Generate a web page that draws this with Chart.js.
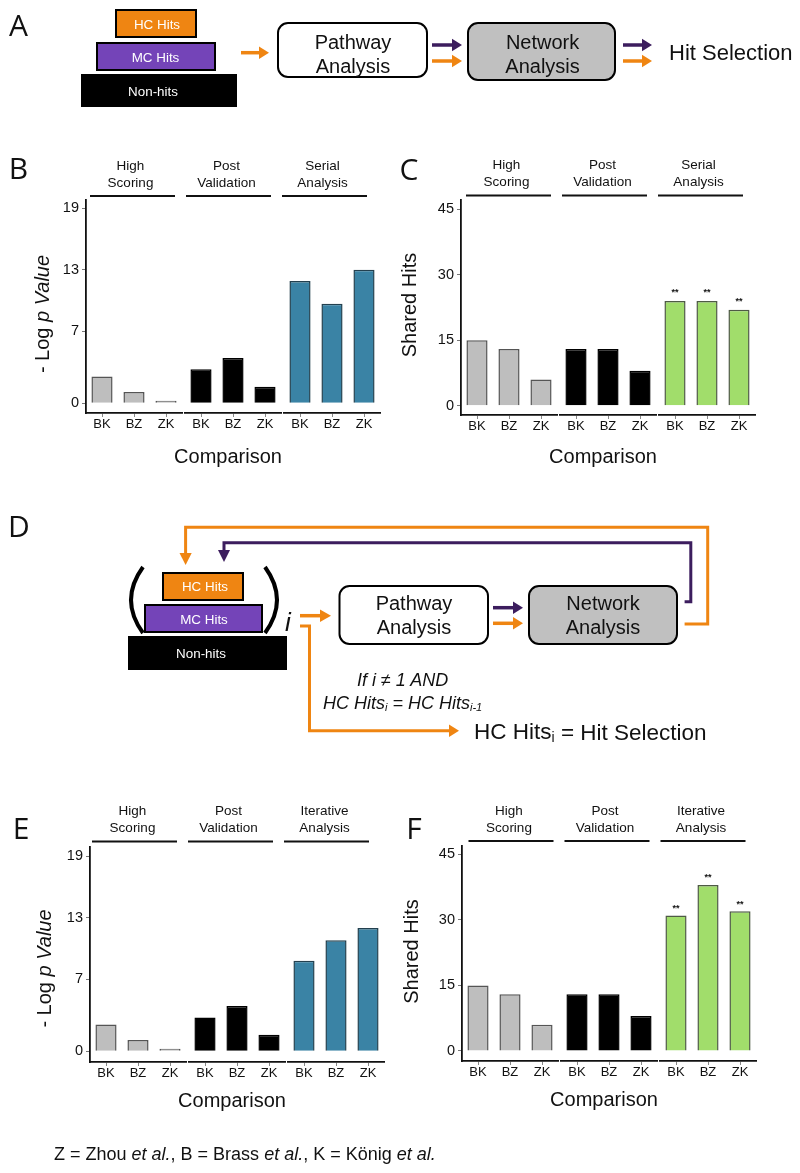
<!DOCTYPE html>
<html>
<head>
<meta charset="utf-8">
<script src="https://cdn.jsdelivr.net/npm/chart.js@4.4.1/dist/chart.umd.min.js"></script>
<style>
  body { margin: 0; background: #fff; }
  #page { position: relative; width: 800px; height: 1173px; overflow: hidden; }
  #page canvas { position: absolute; }
  #art { position: absolute; left: 0; top: 0; }
</style>
</head>
<body>
<div id="page">
  <canvas id="chartB" width="400" height="340" style="left:0;top:140px"></canvas>
  <canvas id="chartC" width="400" height="340" style="left:400px;top:140px"></canvas>
  <canvas id="chartE" width="400" height="340" style="left:0;top:790px"></canvas>
  <canvas id="chartF" width="400" height="340" style="left:400px;top:790px"></canvas>

  <svg id="art" width="800" height="1173" xmlns="http://www.w3.org/2000/svg"
       font-family="Liberation Sans, Arial, sans-serif" fill="#111">
    <!-- panel letters -->
    <g font-family="Open Sans, sans-serif" font-size="30" text-anchor="middle" dominant-baseline="central">
      <text x="18.5" y="24">A</text>
      <text x="18.5" y="167">B</text>
      <text x="409" y="168">C</text>
      <text x="19" y="525">D</text>
      <text x="21" y="827">E</text>
      <text x="414" y="827">F</text>
    </g>

    <!-- A: workflow -->
    <rect x="116" y="10" width="80" height="27" fill="#EF8512" stroke="#000" stroke-width="2"/>
    <rect x="97" y="43" width="118" height="27" fill="#7444B8" stroke="#000" stroke-width="2"/>
    <rect x="81" y="74" width="156" height="33" fill="#000"/>
    <g fill="#fff" font-size="13.4" text-anchor="middle" dominant-baseline="central">
      <text x="157" y="24">HC Hits</text>
      <text x="155.5" y="57">MC Hits</text>
      <text x="153" y="91">Non-hits</text>
    </g>
    <path d="M241 52.7H260" stroke="#EF8512" stroke-width="3.5"/>
    <polygon points="259,46.5 269,52.7 259,59" fill="#EF8512"/>
    <rect x="278" y="23" width="149" height="54" rx="10" fill="#fff" stroke="#000" stroke-width="2"/>
    <rect x="468" y="23" width="147" height="57" rx="10" fill="#C0C0C0" stroke="#000" stroke-width="2"/>
    <g font-size="20" text-anchor="middle" dominant-baseline="central">
      <text x="353" y="42">Pathway</text>
      <text x="353" y="66">Analysis</text>
      <text x="542.6" y="42">Network</text>
      <text x="542.6" y="66">Analysis</text>
    </g>
    <path d="M432 45H453" stroke="#3C1D5E" stroke-width="3.5"/>
    <polygon points="452,38.8 462,45 452,51.2" fill="#3C1D5E"/>
    <path d="M432 61H453" stroke="#EF8512" stroke-width="3.5"/>
    <polygon points="452,54.8 462,61 452,67.2" fill="#EF8512"/>
    <path d="M623 45H643" stroke="#3C1D5E" stroke-width="3.5"/>
    <polygon points="642,38.8 652,45 642,51.2" fill="#3C1D5E"/>
    <path d="M623 61H643" stroke="#EF8512" stroke-width="3.5"/>
    <polygon points="642,54.8 652,61 642,67.2" fill="#EF8512"/>
    <text x="669" y="52" font-size="22" dominant-baseline="central">Hit Selection</text>

    <!-- D: iterative workflow -->
    <polyline points="684.6,624 707.7,624 707.7,527.3 185.6,527.3 185.6,555" fill="none" stroke="#EF8512" stroke-width="3"/>
    <polygon points="179.5,553 191.7,553 185.6,565" fill="#EF8512"/>
    <polyline points="684.6,601.7 690.8,601.7 690.8,542.7 224,542.7 224,552" fill="none" stroke="#3C1D5E" stroke-width="3"/>
    <polygon points="218,550 230,550 224,562" fill="#3C1D5E"/>
    <path d="M143 567Q119 600 143 633" fill="none" stroke="#000" stroke-width="4"/>
    <path d="M265 567Q289 600 265 633" fill="none" stroke="#000" stroke-width="4"/>
    <rect x="163" y="573" width="80" height="27" fill="#EF8512" stroke="#000" stroke-width="2"/>
    <rect x="145" y="605" width="117" height="27" fill="#7444B8" stroke="#000" stroke-width="2"/>
    <rect x="128" y="636" width="159" height="34" fill="#000"/>
    <g fill="#fff" font-size="13.4" text-anchor="middle" dominant-baseline="central">
      <text x="205" y="586.5">HC Hits</text>
      <text x="204" y="619">MC Hits</text>
      <text x="201" y="653">Non-hits</text>
    </g>
    <text x="288" y="622" font-size="26" font-style="italic" text-anchor="middle" dominant-baseline="central">i</text>
    <path d="M300 615.7H321" stroke="#EF8512" stroke-width="3.5"/>
    <polygon points="320,609.5 331,615.7 320,622" fill="#EF8512"/>
    <rect x="339.5" y="586" width="148.5" height="58" rx="10" fill="#fff" stroke="#000" stroke-width="2"/>
    <rect x="529" y="586" width="148" height="58" rx="10" fill="#C0C0C0" stroke="#000" stroke-width="2"/>
    <g font-size="20" text-anchor="middle" dominant-baseline="central">
      <text x="414" y="603">Pathway</text>
      <text x="414" y="627">Analysis</text>
      <text x="603" y="603">Network</text>
      <text x="603" y="627">Analysis</text>
    </g>
    <path d="M493 607.7H514" stroke="#3C1D5E" stroke-width="3.5"/>
    <polygon points="513,601.5 523,607.7 513,614" fill="#3C1D5E"/>
    <path d="M493 623.3H514" stroke="#EF8512" stroke-width="3.5"/>
    <polygon points="513,617 523,623.3 513,629.5" fill="#EF8512"/>
    <polyline points="300,626 309.5,626 309.5,730.7 450,730.7" fill="none" stroke="#EF8512" stroke-width="3"/>
    <polygon points="449,724.5 459,730.7 449,737" fill="#EF8512"/>
    <g font-size="18" font-style="italic" text-anchor="middle" dominant-baseline="central">
      <text x="402.6" y="680">If i ≠ 1 AND</text>
      <text x="402.6" y="703">HC Hits<tspan font-size="11" dy="4">i</tspan><tspan dy="-4"> = HC Hits</tspan><tspan font-size="11" dy="4">i-1</tspan></text>
    </g>
    <text x="474" y="731.7" font-size="22.5" dominant-baseline="central">HC Hits<tspan font-size="14" dy="5">i</tspan><tspan dy="-5"> = Hit Selection</tspan></text>

    <!-- footer -->
    <text x="54" y="1160" font-size="18">Z = Zhou <tspan font-style="italic">et al.</tspan>, B = Brass <tspan font-style="italic">et al.</tspan>, K = König <tspan font-style="italic">et al.</tspan></text>
  </svg>
</div>

<script>
const FONT = '"Liberation Sans", Arial, sans-serif';

// categories and facet headers
const comparisons = ['BK', 'BZ', 'ZK'];
const groupsSerial = [['High', 'Scoring'], ['Post', 'Validation'], ['Serial', 'Analysis']];
const groupsIterative = [['High', 'Scoring'], ['Post', 'Validation'], ['Iterative', 'Analysis']];

// tick labels
const logPTicks = [0, 7, 13, 19];
const sharedTicks = [0, 15, 30, 45];

// B: -log p, serial analysis
const bHighScoring = [2.6, 1.1, 0.25];
const bPostValidation = [3.3, 4.4, 1.6];
const bSerial = [11.9, 9.7, 13.0];

// C: shared hits, serial analysis
const cHighScoring = [15, 13, 6];
const cPostValidation = [13, 13, 8];
const cSerial = [24, 24, 22];
const cSerialStars = ['**', '**', '**'];

// E: -log p, iterative analysis
const eHighScoring = [2.6, 1.1, 0.25];
const ePostValidation = [3.3, 4.4, 1.6];
const eIterative = [8.8, 10.8, 12.0];

// F: shared hits, iterative analysis
const fHighScoring = [15, 13, 6];
const fPostValidation = [13, 13, 8];
const fIterative = [31, 38, 32];
const fIterativeStars = ['**', '**', '**'];

const logPTitle = [{ text: '- Log ', italic: false }, { text: 'p Value', italic: true }];
const sharedTitle = [{ text: 'Shared Hits', italic: false }];

const GRAY = '#BEBEBE', GRAY_EDGE = '#555555';
const BLUE = '#3A83A5', BLUE_EDGE = '#23404F';
const GREEN = '#A1DD6B', GREEN_EDGE = '#4E5A45';

const facetDecor = {
  id: 'facetDecor',
  afterDraw(chart, args, o) {
    const ctx = chart.ctx, area = chart.chartArea;
    ctx.save();
    ctx.fillStyle = '#111';
    ctx.strokeStyle = '#111';
    ctx.textAlign = 'center';
    ctx.textBaseline = 'middle';

    // strip headers
    ['x1', 'x2', 'x3'].forEach((id, i) => {
      const s = chart.scales[id];
      const x0 = s.left + o.stripShift - 3 * i;
      const x1 = x0 + 85;
      const ly = area.top - o.stripGap;
      ctx.lineWidth = 1.8;
      ctx.beginPath();
      ctx.moveTo(x0, ly);
      ctx.lineTo(x1, ly);
      ctx.stroke();
      ctx.font = '13.5px ' + FONT;
      const cx = (x0 + x1) / 2 - 2;
      ctx.fillText(o.groups[i][0], cx, ly - 30);
      ctx.fillText(o.groups[i][1], cx, ly - 13);
    });

    // significance marks
    if (o.stars) {
      ctx.font = 'bold 9px ' + FONT;
      chart.getDatasetMeta(2).data.forEach((bar, j) => {
        ctx.fillText(o.stars[j], bar.x, bar.y - o.starGap);
      });
    }

    // x title
    ctx.font = '20px ' + FONT;
    ctx.fillText('Comparison', (area.left + area.right) / 2 - 5, area.bottom + o.xTitleGap);

    // y title (mixed upright / italic)
    ctx.translate(area.left - o.yTitleOff, (area.top + area.bottom) / 2 + o.yTitleShift);
    ctx.rotate(-Math.PI / 2);
    let total = 0;
    o.yTitle.forEach(p => {
      ctx.font = (p.italic ? 'italic ' : '') + '20px ' + FONT;
      p.w = ctx.measureText(p.text).width;
      total += p.w;
    });
    let x = -total / 2;
    ctx.textAlign = 'left';
    o.yTitle.forEach(p => {
      ctx.font = (p.italic ? 'italic ' : '') + '20px ' + FONT;
      ctx.fillText(p.text, x, 0);
      x += p.w;
    });
    ctx.restore();
  }
};

function facetChart(id, series, fills, edges, o) {
  const scales = {
    y: {
      min: o.yMin,
      max: o.yMax,
      afterBuildTicks: s => { s.ticks = o.yTicks.map(v => ({ value: v })); },
      afterFit: s => { s.width = o.yWidth; },
      ticks: { font: { family: FONT, size: 14.5 }, color: '#111', padding: 3 },
      grid: { display: true, drawOnChartArea: false, drawTicks: true, tickLength: 4, color: '#777' },
      border: { display: true, color: '#111', width: 1.8 }
    }
  };
  ['x1', 'x2', 'x3'].forEach((xid, i) => {
    scales[xid] = {
      type: 'category',
      labels: comparisons,
      position: 'bottom',
      stack: 'facet',
      stackWeight: 32,
      offset: true,
      afterFit: s => { s.height = o.xHeight; },
      ticks: { font: { family: FONT, size: 13 }, color: '#111', padding: 0, maxRotation: 0, autoSkip: false },
      grid: { display: true, offset: false, drawOnChartArea: false, drawTicks: true, tickLength: 4, color: '#888' },
      border: { display: true, color: '#111', width: 1.8 }
    };
    if (i < 2) {
      scales['gap' + i] = {
        type: 'category', labels: [''], position: 'bottom',
        stack: 'facet', stackWeight: 1, display: false
      };
    }
  });

  new Chart(document.getElementById(id), {
    type: 'bar',
    data: {
      datasets: series.map((d, i) => ({
        data: d,
        xAxisID: 'x' + (i + 1),
        grouped: false,
        backgroundColor: fills[i],
        borderColor: edges[i],
        borderWidth: 1.5,
        barPercentage: 0.66,
        categoryPercentage: 1
      }))
    },
    options: {
      responsive: false,
      animation: false,
      layout: { padding: { top: o.padTop, right: o.padRight, left: 0, bottom: 0 } },
      scales: scales,
      plugins: {
        legend: { display: false },
        tooltip: { enabled: false },
        facetDecor: o
      }
    },
    plugins: [facetDecor]
  });
}

facetChart('chartB', [bHighScoring, bPostValidation, bSerial],
  [GRAY, '#000', BLUE], [GRAY_EDGE, '#000', BLUE_EDGE], {
    yMin: -0.95, yMax: 19.8, yTicks: logPTicks, yWidth: 86, padTop: 60, padRight: 20, xHeight: 67,
    groups: groupsSerial, stripShift: 4, stripGap: 4, xTitleGap: 44,
    yTitle: logPTitle, yTitleOff: 43, yTitleShift: 7.5
  });

facetChart('chartC', [cHighScoring, cPostValidation, cSerial],
  [GRAY, '#000', GREEN], [GRAY_EDGE, '#000', GREEN_EDGE], {
    yMin: -2.13, yMax: 47.13, yTicks: sharedTicks, yWidth: 61, padTop: 60, padRight: 45, xHeight: 65,
    groups: groupsSerial, stripShift: 5, stripGap: 4.5, xTitleGap: 42,
    yTitle: sharedTitle, yTitleOff: 51, yTitleShift: -2.5,
    stars: cSerialStars, starGap: 8
  });

facetChart('chartE', [eHighScoring, ePostValidation, eIterative],
  [GRAY, '#000', BLUE], [GRAY_EDGE, '#000', BLUE_EDGE], {
    yMin: -1.04, yMax: 19.88, yTicks: logPTicks, yWidth: 90, padTop: 57, padRight: 16, xHeight: 68,
    groups: groupsIterative, stripShift: 2, stripGap: 5.5, xTitleGap: 39,
    yTitle: logPTitle, yTitleOff: 45, yTitleShift: 14
  });

facetChart('chartF', [fHighScoring, fPostValidation, fIterative],
  [GRAY, '#000', GREEN], [GRAY_EDGE, '#000', GREEN_EDGE], {
    yMin: -2.29, yMax: 46.9, yTicks: sharedTicks, yWidth: 62, padTop: 56, padRight: 44, xHeight: 69,
    groups: groupsIterative, stripShift: 6.5, stripGap: 5, xTitleGap: 39,
    yTitle: sharedTitle, yTitleOff: 50, yTitleShift: -2,
    stars: fIterativeStars, starGap: 7
  });
</script>
</body>
</html>
